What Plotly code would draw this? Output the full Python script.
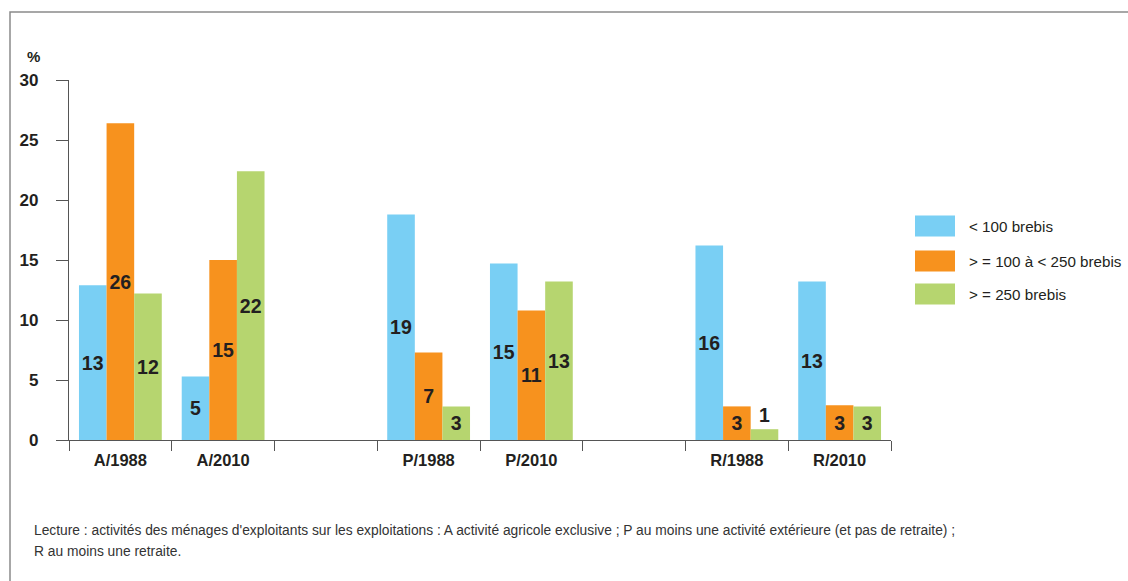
import plotly.graph_objects as go

# ---- data ----
categories = ["A/1988", "A/2010", " ", "P/1988", "P/2010", "  ", "R/1988", "R/2010"]
series_names = ["< 100 brebis", "> = 100 à < 250 brebis", "> = 250 brebis"]
small = [12.9, 5.3, None, 18.8, 14.7, None, 16.2, 13.2]
medium = [26.4, 15.0, None, 7.3, 10.8, None, 2.8, 2.9]
large = [12.2, 22.4, None, 2.8, 13.2, None, 0.9, 2.8]
series_values = [small, medium, large]
colors = ["#79CFF4", "#F7921E", "#B6D56F"]
y_ticks = [0, 5, 10, 15, 20, 25, 30]
note_lines = [
    "Lecture : activités des ménages d'exploitants sur les exploitations : A activité agricole exclusive ; P au moins une activité extérieure (et pas de retraite) ;",
    "R au moins une retraite.",
]

FONT = "Liberation Sans"
TXT = "#231F20"

W, H = 1128, 581
ML, MR, MT, MB = 69, 237, 80, 141
PW = W - ML - MR
PH = H - MT - MB


def px_x(x):
    return (x - ML) / PW


def px_y(y):
    return (H - MB - y) / PH


def f(size, weight="normal", color=TXT):
    return dict(family=FONT, size=size, color=color, weight=weight)


fig = go.Figure()
for name, vals, col in zip(series_names, series_values, colors):
    fig.add_trace(go.Bar(
        x=categories, y=vals, name=name, marker=dict(color=col, line=dict(width=0)),
        texttemplate="%{y:.0f}", textposition="auto", insidetextanchor="middle",
        textangle=0, constraintext="none",
        textfont=f(19.5, "bold"), outsidetextfont=f(19.5, "bold"), insidetextfont=f(19.5, "bold"),
        cliponaxis=False, showlegend=False,
    ))

fig.update_layout(
    width=W, height=H, margin=dict(l=ML, r=MR, t=MT, b=MB, autoexpand=False),
    paper_bgcolor="white", plot_bgcolor="white",
    barmode="group", bargap=0.194, bargroupgap=0,
    font=f(14),
)
fig.update_xaxes(
    type="category", categoryorder="array", categoryarray=categories,
    showline=True, linecolor="#555", linewidth=1.3, showgrid=False,
    ticks="outside", tickson="boundaries", ticklen=10, tickcolor="#555", tickwidth=1.3,
    tickfont=f(16.5, "bold"), ticklabelstandoff=5,
    zeroline=False,
)
fig.update_yaxes(
    range=[0, 30], tickvals=y_ticks, showline=True, linecolor="#555", linewidth=1.3,
    showgrid=False, zeroline=False, ticks="outside", ticklen=12, tickcolor="#555", tickwidth=1.3,
    tickfont=f(17, "bold"), ticklabelstandoff=14,
)

# frame
fig.add_shape(type="rect", xref="paper", yref="paper",
              x0=px_x(10), x1=px_x(1200), y0=px_y(12), y1=px_y(650),
              line=dict(color="#8a8a8a", width=1.5), fillcolor="rgba(0,0,0,0)", layer="below")

# % label
fig.add_annotation(xref="paper", yref="paper", x=px_x(25), y=px_y(56), text="%",
                   showarrow=False, xanchor="left", yanchor="middle", font=f(15, "bold"))

# legend (custom, larger swatches)
row_y = [226, 261, 294]
for name, col, ry in zip(series_names, colors, row_y):
    fig.add_shape(type="rect", xref="paper", yref="paper",
                  x0=px_x(915), x1=px_x(955), y0=px_y(ry - 10.5), y1=px_y(ry + 10.5),
                  line=dict(width=0), fillcolor=col)
    fig.add_annotation(xref="paper", yref="paper", x=px_x(967), y=px_y(ry), text=name,
                       showarrow=False, xanchor="left", yanchor="middle", font=f(15.2))

# note
for line, ly in zip(note_lines, [530, 551]):
    fig.add_annotation(xref="paper", yref="paper", x=px_x(32), y=px_y(ly), text=line,
                       showarrow=False, xanchor="left", yanchor="middle", font=f(13.8, color="#333333"))

fig.write_html("out.html", config={"displayModeBar": False},
               post_script="document.body.style.margin='0';")
